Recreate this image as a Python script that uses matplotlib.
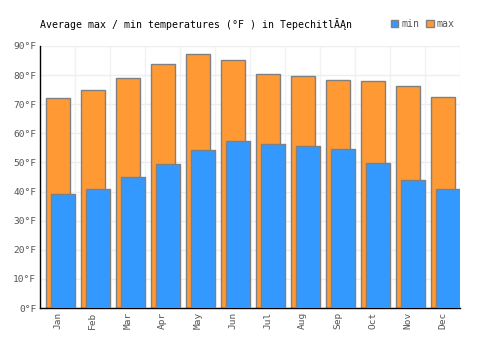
import matplotlib
matplotlib.use('Agg')
import matplotlib.pyplot as plt
import numpy as np
from matplotlib.patches import Patch

months = ['Jan', 'Feb', 'Mar', 'Apr', 'May', 'Jun',
          'Jul', 'Aug', 'Sep', 'Oct', 'Nov', 'Dec']
temp_max = [72.0, 74.8, 78.9, 83.7, 87.1, 85.1, 80.3, 79.6, 78.2, 77.9, 76.2, 72.4]
temp_min = [39.0, 40.8, 45.0, 49.4, 54.2, 57.4, 56.2, 55.5, 54.6, 49.8, 43.9, 40.8]
yticks = list(range(0, 100, 10))

ORANGE = '#ff9933'
BLUE = '#3399ff'
EDGE = '#808080'
TXT = '#555555'

plt.rcParams['font.family'] = ['DejaVu Sans Mono']

fig = plt.figure(figsize=(5, 3.5), dpi=100)
ax = fig.add_axes([0.0806, 0.12, 0.84, 0.7486])

x = np.arange(len(months))
ax.bar(x, temp_max, width=0.68, color=ORANGE, edgecolor=EDGE, linewidth=1, zorder=2)
ax.bar(x + 0.153, temp_min, width=0.694, color=BLUE, edgecolor=EDGE, linewidth=1, zorder=3)

ax.set_xlim(-0.5, len(months) - 0.5)
ax.set_ylim(0, 90)
ax.set_yticks(yticks)
ax.set_yticklabels([f'{v}°F' for v in yticks])
ax.set_xticks(x)
ax.set_xticklabels(months, rotation=90)
ax.set_xticks(x + 0.5, minor=True)
ax.tick_params(axis='both', which='both', length=0, colors=TXT, labelsize=6.8, pad=3)
ax.grid(True, which='major', axis='y', color='#eeeeee', lw=1, zorder=0)
ax.grid(True, which='minor', axis='x', color='#f2f2f2', lw=1, zorder=0)
ax.set_axisbelow(True)

for s in ['top', 'right']:
    ax.spines[s].set_visible(False)
for s in ['left', 'bottom']:
    ax.spines[s].set_color('black')
    ax.spines[s].set_linewidth(1)

fig.text(0.08, 0.931, 'Average max / min temperatures (°F ) in Tepechitl\u0102\u0104n',
         fontsize=7.1, color='black', ha='left', va='center')

handles = [Patch(facecolor=BLUE, edgecolor=EDGE, label='min'),
           Patch(facecolor=ORANGE, edgecolor=EDGE, label='max')]
leg = fig.legend(handles=handles, loc='center left', bbox_to_anchor=(0.772, 0.931),
                 ncol=2, frameon=False, handlelength=0.75, handleheight=0.75,
                 handletextpad=0.3, columnspacing=0.7, fontsize=7.1, borderpad=0)
for t in leg.get_texts():
    t.set_color(TXT)

fig.savefig('out.png', dpi=100)
